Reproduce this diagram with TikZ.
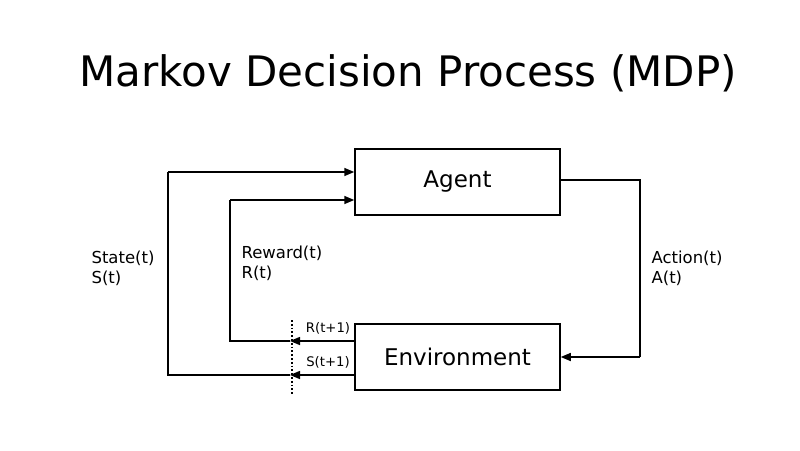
\documentclass[tikz,border=0pt]{standalone}
\usepackage{fontspec}
\setmainfont{DejaVu Sans}
\usetikzlibrary{arrows.meta}
\begin{document}
\begin{tikzpicture}[x=1pt,y=-1pt,
  box/.style={draw,line width=1.5pt,minimum width=205pt,minimum height=66pt,font=\fontsize{23}{27}\selectfont},
  lbl/.style={font=\fontsize{16.5}{20}\selectfont,align=left,anchor=west},
  sm/.style={font=\fontsize{13.2}{15}\selectfont,anchor=south},
  ln/.style={line width=1.5pt},
  ar/.style={ln,-{Triangle[length=10pt,width=8pt]}}]
\useasboundingbox (0,0) rectangle (800,450);
\node (title) at (408,73) {\fontsize{42}{48}\selectfont Markov Decision Process (MDP)};
\node[box] (agent) at (457.5,182) {Agent};
\node[box] (env) at (457.5,357) {Environment};
\coordinate (a1) at (640,180);
\coordinate (a2) at (640,357);
\draw[ln] (agent.east |- a1) -- (a1) -- (a2);
\draw[ar] (a2) -- (env.east |- a2);
\coordinate (d1) at (292,320);
\coordinate (d2) at (292,395);
\draw[line width=1.8pt,dotted] (d1) -- (d2);
\coordinate (r0) at (290,341);
\coordinate (s0) at (290,375);
\draw[ar] (env.west |- r0) -- (r0);
\draw[ar] (env.west |- s0) -- (s0);
\node[sm] (rl) at (328,338) {R(t+1)};
\node[sm] (sl) at (328,372) {S(t+1)};
\coordinate (r1) at (230,341);
\coordinate (r2) at (230,200);
\coordinate (s1) at (168,375);
\coordinate (s2) at (168,172);
\draw[ln] (r0) -- (r1) -- (r2);
\draw[ar] (r2) -- (agent.west |- r2);
\draw[ln] (s0) -- (s1) -- (s2);
\draw[ar] (s2) -- (agent.west |- s2);
\node[lbl] (rw) at (238,263) {Reward(t)\\R(t)};
\node[lbl] (st) at (88,268) {State(t)\\S(t)};
\node[lbl] (ac) at (648,268) {Action(t)\\A(t)};
\end{tikzpicture}
\end{document}
